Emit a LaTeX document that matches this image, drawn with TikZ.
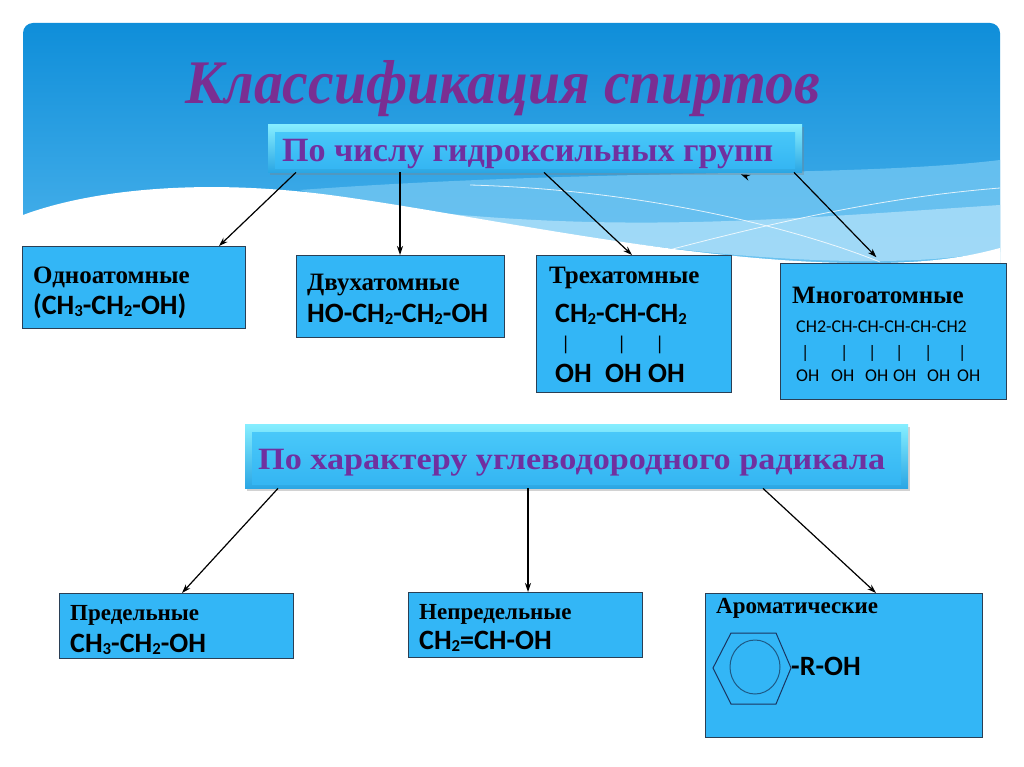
\documentclass[tikz,border=0pt]{standalone}
\usepackage{fontspec}
\setmainfont{Liberation Serif}
\newfontfamily\formfont{Carlito}
\usepackage{graphicx}
\usetikzlibrary{shadows,arrows.meta}
\definecolor{boxblue}{HTML}{33B6F6}
\definecolor{boxline}{HTML}{2A3F55}
\definecolor{purp}{HTML}{7030A0}
\definecolor{titlepurp}{HTML}{7A2E92}
\definecolor{paneltop}{HTML}{0F8ED9}
\definecolor{panelbot}{HTML}{52B7EE}
\definecolor{bandA}{HTML}{72C6F2}
\definecolor{bandB}{HTML}{A6DCF8}
\definecolor{hdrlight}{HTML}{86EEFF}
\definecolor{hdrin}{HTML}{4CCBFA}
\definecolor{hdrindark}{HTML}{33B4F2}
\definecolor{hdredge}{HTML}{2AA6E4}
\definecolor{hexline}{HTML}{1A3560}
\definecolor{ringline}{HTML}{1E5A86}
\newcommand\sbs[1]{\raisebox{-0.08em}{\scalebox{0.6}{#1}}}
\begin{document}
\begin{tikzpicture}[x=1pt,y=-1pt,
  box/.style={draw=boxline, line width=1pt, fill=boxblue, inner sep=0pt, anchor=north west},
  hdr/.style={inner sep=0pt, anchor=north west, top color=hdrlight, bottom color=hdredge,
    drop shadow={opacity=0.35, shadow xshift=2pt, shadow yshift=-3pt},
    path picture={\shade[top color=hdrin, bottom color=hdrindark]
      ([shift={(7pt,-8pt)}]path picture bounding box.north west) rectangle
      ([shift={(-7pt,4pt)}]path picture bounding box.south east);}},
  lab/.style={anchor=base west, inner sep=0pt, font=\fontsize{25}{28}\selectfont\bfseries},
  labs/.style={anchor=base west, inner sep=0pt, font=\fontsize{23}{26}\selectfont\bfseries},
  form/.style={anchor=base west, inner sep=0pt, font=\formfont\fontsize{28}{32}\selectfont\bfseries},
  formsm/.style={anchor=base west, inner sep=0pt, font=\formfont\fontsize{18}{20}\selectfont},
  pipe/.style={anchor=base west, inner sep=0pt, font=\formfont\fontsize{20}{22}\selectfont},
  hdrtext/.style={anchor=base west, inner sep=0pt, text=purp},
  arr/.style={-{Stealth[length=9pt,width=6pt]}, line width=1.2pt, black}]
\useasboundingbox (0,0) rectangle (1024,767);
\fill[white] (0,0) rectangle (1024,767);
% background panel
\shade[top color=paneltop, bottom color=panelbot, rounded corners=10pt] (23,23) rectangle (1000,290);
\fill[bandA, opacity=0.8] (300,190) .. controls (600,168) and (850,178) .. (1000,160) -- (1000,252)
  .. controls (900,272) and (700,262) .. (500,236) .. controls (420,226) and (360,210) .. (300,190) -- cycle;
\fill[bandB, opacity=0.9] (450,214) .. controls (650,232) and (800,218) .. (1000,205) -- (1000,250)
  .. controls (900,272) and (700,262) .. (450,214) -- cycle;
\draw[white, line width=0.8pt, opacity=0.8] (470,185) .. controls (650,190) and (800,230) .. (880,262);
\draw[white, line width=0.8pt, opacity=0.8] (650,255) .. controls (800,215) and (900,196) .. (1000,188);
\fill[white] (23,215) .. controls (90,190) and (200,178) .. (330,195) .. controls (480,215) and (700,266) .. (880,263)
  .. controls (940,262) and (970,256) .. (1000,248) -- (1000,300) -- (23,300) -- cycle;
% title
\node[anchor=base, inner sep=0pt, text=titlepurp] (title) at (503,104)
  {\resizebox{635pt}{\height}{\fontsize{62}{66}\selectfont\bfseries\itshape Классификация спиртов}};
% headers
\node[hdr, minimum width=534pt, minimum height=48pt] (h1) at (268,124) {};
\node[hdrtext] (h1t) at (282,162)
  {\resizebox{491pt}{\height}{\fontsize{34}{38}\selectfont\bfseries По числу гидроксильных групп}};
\node[hdr, minimum width=663pt, minimum height=64pt] (h2) at (245,424) {};
\node[hdrtext] (h2t) at (258,469)
  {\resizebox{627pt}{\height}{\fontsize{31}{35}\selectfont\bfseries По характеру углеводородного радикала}};
% boxes
\node[box, minimum width=223pt, minimum height=82pt] (b1) at (22,246) {};
\node[box, minimum width=208pt, minimum height=82pt] (b2) at (296,255) {};
\node[box, minimum width=195pt, minimum height=137pt] (b3) at (536,255) {};
\node[box, minimum width=226pt, minimum height=136pt] (b4) at (780,263) {};
\node[box, minimum width=234pt, minimum height=65pt] (b5) at (59,593) {};
\node[box, minimum width=234pt, minimum height=65pt] (b6) at (408,592) {};
\node[box, minimum width=277pt, minimum height=144pt] (b7) at (705,593) {};
% box texts
\node[lab] (t1) at (33,283) {Одноатомные};
\node[form] (f1) at (33,314) {(CH\sbs{3}-CH\sbs{2}-OH)};
\node[lab] (t2) at (307,290) {Двухатомные};
\node[form] (f2) at (307,322) {HO-CH\sbs{2}-CH\sbs{2}-OH};
\node[lab] (t3) at (549,283) {Трехатомные};
\node[form] (f3) at (555,322) {CH\sbs{2}-CH-CH\sbs{2}};
\foreach \x [count=\i] in {561,617,655} \node[pipe] (p3\i) at (\x,350) {|};
\foreach \x [count=\i] in {555,605,648} \node[form] (o3\i) at (\x,382) {OH};
\node[lab] (t4) at (792,303) {Многоатомные};
\node[formsm] (f4) at (796,332) {CH2-CH-CH-CH-CH-CH2};
\foreach \x [count=\i] in {801,840,868,895,924,958} \node[formsm] (p4\i) at (\x,358) {|};
\foreach \x [count=\i] in {796,831,865,893,927,957} \node[formsm] (o4\i) at (\x,381) {OH};
\node[labs] (t5) at (70,620) {Предельные};
\node[form] (f5) at (70,652) {CH\sbs{3}-CH\sbs{2}-OH};
\node[labs] (t6) at (419,619) {Непредельные};
\node[form] (f6) at (419,649) {CH\sbs{2}=CH-OH};
\node[labs] (t7) at (716,613) {Ароматические};
\node[form] (f7) at (791,675) {-R-OH};
% benzene ring
\draw[hexline, line width=1pt] (713,668) -- (731,633) -- (776,633) -- (791,668) -- (776,704) -- (731,704) -- cycle;
\draw[ringline, line width=1pt] (755,667) ellipse [x radius=25, y radius=27];
% arrows
\draw[arr] ([xshift=28pt]h1.south west) -- ([xshift=197pt]b1.north west);
\draw[arr] ([xshift=132pt]h1.south west) -- ([xshift=104pt]b2.north west);
\draw[arr] ([xshift=276pt]h1.south west) -- ([xshift=96pt]b3.north west);
\draw[arr, shorten >=8pt] ([xshift=526pt]h1.south west) -- ([xshift=102pt]b4.north west);
\coordinate (stray) at (745,176);
\draw[arr] (stray) -- ([xshift=473pt,yshift=-2pt]h1.south west);
\draw[arr] ([xshift=33pt]h2.south west) -- ([xshift=123pt]b5.north west);
\draw[arr] ([xshift=283pt]h2.south west) -- ([xshift=120pt]b6.north west);
\draw[arr] ([xshift=518pt]h2.south west) -- ([xshift=171pt]b7.north west);
\end{tikzpicture}
\end{document}
